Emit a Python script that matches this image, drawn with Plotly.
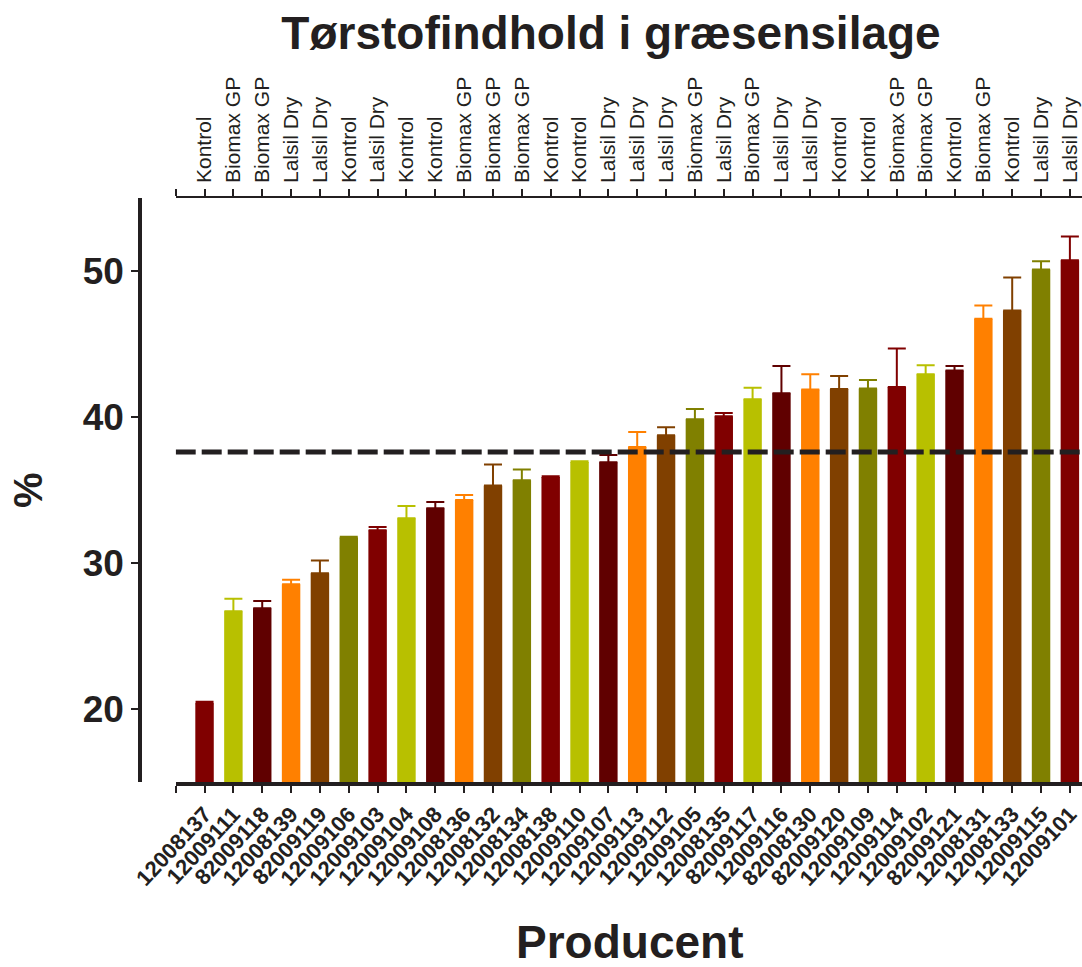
import plotly.graph_objects as go

producers = ["12008137", "12009111", "82009118", "12008139", "82009119", "12009106",
             "12009103", "12009104", "12009108", "12008136", "12008132", "12008134",
             "12008138", "12009110", "12009107", "12009113", "12009112", "12009105",
             "12008135", "82009117", "12009116", "82008130", "82009120", "12009109",
             "12009114", "12009102", "82009121", "12008131", "12008133", "12009115",
             "12009101"]
treatments = ["Kontrol", "Biomax GP", "Biomax GP", "Lalsil Dry", "Lalsil Dry", "Kontrol",
              "Lalsil Dry", "Kontrol", "Kontrol", "Biomax GP", "Biomax GP", "Biomax GP",
              "Kontrol", "Kontrol", "Lalsil Dry", "Lalsil Dry", "Lalsil Dry", "Biomax GP",
              "Lalsil Dry", "Biomax GP", "Lalsil Dry", "Lalsil Dry", "Kontrol", "Kontrol",
              "Biomax GP", "Biomax GP", "Kontrol", "Biomax GP", "Kontrol", "Lalsil Dry",
              "Lalsil Dry"]
values = [20.4, 26.7, 26.9, 28.55, 29.3, 31.75, 32.25, 33.07, 33.75, 34.32, 35.3, 35.67,
          35.89, 36.92, 36.9, 37.95, 38.75, 39.84, 40.05, 41.21, 41.62, 41.89, 41.92, 41.96,
          42.05, 42.92, 43.19, 46.73, 47.3, 50.1, 50.74]
errors = [0.1, 0.85, 0.5, 0.3, 0.87, 0.05, 0.22, 0.84, 0.43, 0.34, 1.44, 0.73,
          0.05, 0.05, 0.5, 1.02, 0.55, 0.71, 0.23, 0.8, 1.87, 1.03, 0.88, 0.57,
          2.65, 0.63, 0.3, 0.91, 2.25, 0.57, 1.62]
mean_line = 37.6
y_ticks = [20, 30, 40, 50]

palette = ["#800000", "#B8C000", "#600000", "#FF8000", "#804000", "#808000"]
ink = "#231F20"
font_family = "Liberation Sans, Arial, sans-serif"

positions = list(range(len(producers)))

fig = go.Figure()
for k, col in enumerate(palette):
    idx = [i for i in positions if i % len(palette) == k]
    fig.add_trace(go.Bar(
        x=[positions[i] for i in idx],
        y=[values[i] for i in idx],
        width=0.64,
        marker=dict(color=col, line=dict(width=0)),
        error_y=dict(type="data", symmetric=False,
                     array=[errors[i] for i in idx],
                     arrayminus=[0] * len(idx),
                     color=col, thickness=2, width=9),
        showlegend=False,
    ))

# invisible helper trace for the top category axis
fig.add_trace(go.Scatter(x=positions, y=values, xaxis="x2", mode="markers",
                         marker=dict(opacity=0), hoverinfo="skip", showlegend=False))

fig.add_shape(type="line", xref="x", yref="y", x0=-1, x1=30.42,
              y0=mean_line, y1=mean_line,
              line=dict(color=ink, width=5, dash="20px,6px"))

xr = [-1, 30.42]
tickvals = [-1] + positions
fig.update_layout(
    width=1082, height=967,
    paper_bgcolor="white", plot_bgcolor="white",
    margin=dict(l=140, r=0, t=198, b=184.5),
    barmode="overlay",
    font=dict(family=font_family, color=ink),
    title=dict(text="Tørstofindhold i græsensilage", x=0.5, xref="paper",
               xanchor="center", y=1 - 33 / 967, yanchor="middle",
               font=dict(size=46, weight="bold", color=ink, family=font_family)),
    xaxis=dict(domain=[35.7 / 942, 1], range=xr, tickmode="array",
               tickvals=tickvals, ticktext=[""] + producers, tickangle=-47,
               tickfont=dict(size=22, weight="bold", color=ink),
               showline=True, linewidth=3.5, linecolor=ink,
               ticks="outside", ticklen=7, tickwidth=2, tickcolor=ink,
               showgrid=False, zeroline=False, anchor="y"),
    xaxis2=dict(overlaying="x", side="top", range=xr, tickmode="array",
                tickvals=tickvals, ticktext=[""] + treatments, tickangle=-90,
                tickfont=dict(size=21, color=ink), ticklabelstandoff=2,
                showline=True, linewidth=1.5, linecolor=ink,
                ticks="outside", ticklen=7, tickwidth=1.5, tickcolor=ink,
                showgrid=False, zeroline=False, anchor="y"),
    yaxis=dict(range=[15, 55], tickvals=y_ticks, anchor="free", position=0,
               tickfont=dict(size=37, weight="bold", color=ink),
               showline=True, linewidth=3.5, linecolor=ink,
               ticks="outside", ticklen=7, tickwidth=2, tickcolor=ink,
               showgrid=False, zeroline=False),
    annotations=[
        dict(text="Producent", xref="paper", yref="paper", x=0.52, y=-0.2746,
             xanchor="center", yanchor="middle", showarrow=False,
             font=dict(size=46, weight="bold", color=ink)),
        dict(text="%", xref="paper", yref="paper", x=-0.119, y=0.5,
             xanchor="center", yanchor="middle", showarrow=False, textangle=-90,
             font=dict(size=40, weight="bold", color=ink)),
    ],
)

fig.write_html("out.html", config={"displayModeBar": False},
               post_script="document.body.style.margin='0';document.body.style.overflow='hidden';")
